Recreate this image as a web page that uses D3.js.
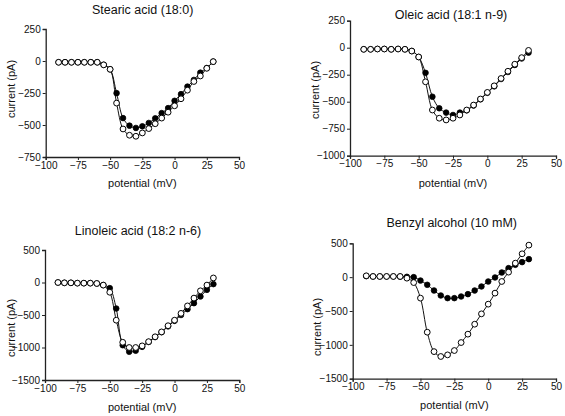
<!DOCTYPE html>
<html><head><meta charset="utf-8">
<script src="https://cdn.jsdelivr.net/npm/d3@7"></script>
<style>
html,body{margin:0;padding:0;background:#fff;}
svg text{font-family:"Liberation Sans",Arial,sans-serif;fill:#111;}
</style></head>
<body><svg id="c" width="565" height="416"></svg>
<script>
// Membrane potential (mV)
const potentials = [-90,-85,-80,-75,-70,-65,-60,-55,-50,-45,-40,-35,-30,-25,-20,-15,-10,-5,0,5,10,15,20,25,30];
const xTicks = [-100,-75,-50,-25,0,25,50];

// Stearic acid (18:0)
const stearicOpen   = [-10,-10,-10,-10,-10,-10,-10,-30,-65,-329,-531,-580,-588,-562,-528,-490,-446,-400,-350,-295,-228,-160,-117,-57,-5];
const stearicFilled = [-10,-10,-10,-10,-10,-10,-10,-30,-65,-251,-446,-505,-523,-510,-484,-448,-407,-368,-311,-259,-200,-148,-91,-55,-5];
const stearicTicks  = [250,0,-250,-500,-750];

// Oleic acid (18:1 n-9)
const oleicOpen   = [-15,-15,-12,-12,-15,-12,-15,-31,-86,-316,-577,-653,-669,-653,-623,-577,-531,-475,-414,-353,-285,-218,-153,-92,-25];
const oleicFilled = [-15,-15,-12,-12,-15,-12,-15,-31,-86,-233,-454,-561,-601,-623,-601,-580,-535,-478,-418,-358,-290,-225,-160,-100,-46];
const oleicTicks  = [250,0,-250,-500,-750,-1000];

// Linoleic acid (18:2 n-6)
const linoleicOpen   = [0,-5,-5,-10,-10,-10,-15,-40,-150,-580,-920,-1000,-1000,-975,-910,-835,-760,-665,-580,-475,-360,-240,-128,-40,70];
const linoleicFilled = [0,-5,-5,-10,-10,-10,-15,-40,-87,-400,-965,-1065,-1050,-990,-915,-840,-765,-675,-590,-500,-410,-318,-215,-113,-25];
const linoleicTicks  = [500,0,-500,-1000,-1500];

// Benzyl alcohol (10 mM)
const benzylOpen   = [20,10,10,10,10,10,-15,-80,-310,-813,-1100,-1172,-1148,-1084,-966,-842,-695,-542,-399,-236,-64,74,207,345,473];
const benzylFilled = [15,10,10,10,10,8,5,0,-50,-113,-197,-271,-310,-310,-286,-251,-197,-138,-64,-5,69,133,182,222,266];
const benzylTicks  = [500,0,-500,-1000,-1500];

const titles = ["Stearic acid (18:0)","Oleic acid (18:1 n-9)","Linoleic acid (18:2 n-6)","Benzyl alcohol (10 mM)"];

const panels = [
  {title:titles[0], open:stearicOpen, filled:stearicFilled, yTicks:stearicTicks,
   x0:45.7, x1:239, yTop:29, yBot:157, titleX:142.7, titleY:13.5, xlabY:187, ylabX:15, ylabY:89},
  {title:titles[1], open:oleicOpen, filled:oleicFilled, yTicks:oleicTicks,
   x0:350, x1:556, yTop:20.7, yBot:155.7, titleX:451, titleY:19, xlabY:187, ylabX:319, ylabY:90},
  {title:titles[2], open:linoleicOpen, filled:linoleicFilled, yTicks:linoleicTicks,
   x0:45, x1:239.3, yTop:250, yBot:380, titleX:138, titleY:235, xlabY:411, ylabX:15, ylabY:328},
  {title:titles[3], open:benzylOpen, filled:benzylFilled, yTicks:benzylTicks,
   x0:352.7, x1:556, yTop:243.3, yBot:378.7, titleX:451.7, titleY:227, xlabY:408.5, ylabX:321, ylabY:327}
];

const svg = d3.select("#c");

panels.forEach(p => {
  const yMax = d3.max(p.yTicks), yMin = d3.min(p.yTicks);
  const x = d3.scaleLinear().domain([-100,50]).range([p.x0,p.x1]);
  const y = d3.scaleLinear().domain([yMin,yMax]).range([p.yBot,p.yTop]);
  const g = svg.append("g");

  const xa = g.append("g").attr("transform",`translate(0,${p.yBot})`)
    .call(d3.axisBottom(x).tickValues(xTicks).tickSize(3).tickPadding(1.5).tickFormat(d3.format("d")));
  const ya = g.append("g").attr("transform",`translate(${p.x0},0)`)
    .call(d3.axisLeft(y).tickValues(p.yTicks).tickSize(3).tickPadding(2).tickFormat(d3.format("d")));
  [xa,ya].forEach(a=>{
    a.selectAll("path").attr("stroke","#222").attr("stroke-width",1.3);
    a.selectAll("line").attr("stroke","#222");
    a.selectAll("text").style("font-size","10px").style("fill","#111").style("font-family","'Liberation Sans',Arial,sans-serif");
  });

  g.append("text").attr("x",p.titleX).attr("y",p.titleY).attr("text-anchor","middle")
    .style("font-size","12.5px").text(p.title);
  g.append("text").attr("x",(p.x0+p.x1)/2).attr("y",p.xlabY).attr("text-anchor","middle")
    .style("font-size","11px").text("potential (mV)");
  g.append("text").attr("transform",`translate(${p.ylabX},${p.ylabY}) rotate(-90)`).attr("text-anchor","middle")
    .style("font-size","11px").text("current (pA)");

  const line = d3.line().x((d,i)=>x(potentials[i])).y(d=>y(d)).curve(d3.curveCatmullRom.alpha(0.5));
  [p.filled,p.open].forEach(s=>{
    g.append("path").datum(s).attr("d",line).attr("fill","none").attr("stroke","#111").attr("stroke-width",1);
  });
  g.selectAll(".f").data(p.filled).enter().append("circle")
    .attr("cx",(d,i)=>x(potentials[i])).attr("cy",d=>y(d)).attr("r",2.8)
    .attr("fill","#000").attr("stroke","#000").attr("stroke-width",0.8);
  g.selectAll(".o").data(p.open).enter().append("circle")
    .attr("cx",(d,i)=>x(potentials[i])).attr("cy",d=>y(d)).attr("r",2.9)
    .attr("fill","#fff").attr("stroke","#000").attr("stroke-width",1);
});
</script></body></html>
